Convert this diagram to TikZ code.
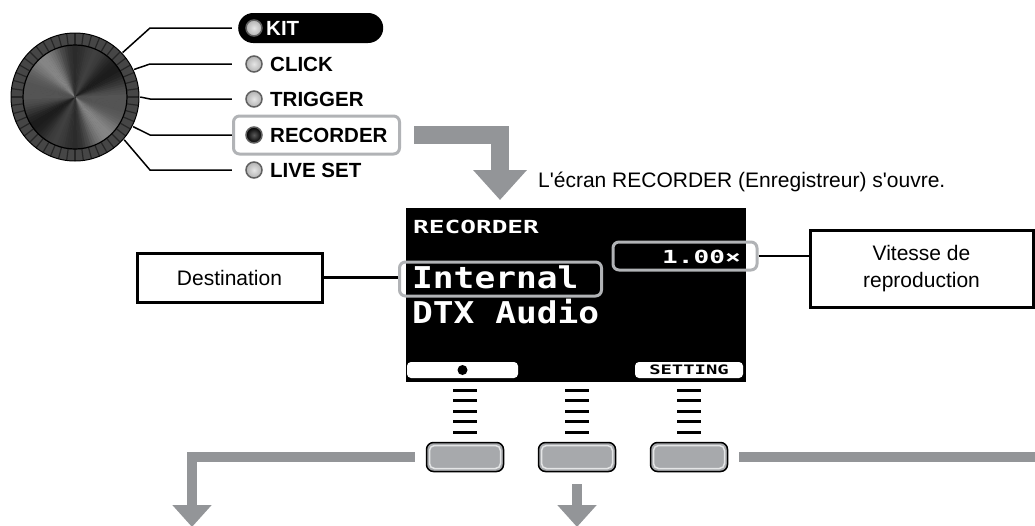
\documentclass[tikz,border=0pt]{standalone}
\usepackage{fontspec}
\setmainfont{Liberation Sans}
\newfontfamily\lcdbig[FakeStretch=1.15]{DejaVu Sans Mono}
\newfontfamily\lcdsmall[FakeStretch=1.45]{DejaVu Sans Mono}
\usepackage{tikz}
\usetikzlibrary{positioning,arrows.meta,fit,backgrounds,calc}
\definecolor{tarrow}{HTML}{939598}
\definecolor{thl}{HTML}{B1B3B6}
\definecolor{tbtn}{HTML}{A7A9AC}
\definecolor{tring}{HTML}{464646}

\begin{document}
\begin{tikzpicture}[x=1pt, y=-1pt, font=\fontsize{21}{27}\selectfont,
  lbl/.style={font=\fontsize{20.5}{24}\selectfont\bfseries, anchor=west, inner sep=0pt},
  led/.style={circle, draw=gray!75!black, line width=1.5pt, inner color=gray!20, outer color=gray!60, minimum size=16pt, inner sep=0pt},
  wire/.style={line width=1.5pt},
  hl/.style={draw=thl, line width=3pt, rounded corners=6pt, inner sep=0pt},
  box/.style={draw, line width=3pt, align=center, inner sep=0pt},
  lcd/.style={white, inner sep=0pt, anchor=west, font=\lcdbig\fontsize{30}{32}\selectfont\bfseries},
  lcds/.style={white, inner sep=0pt, font=\lcdsmall\fontsize{18}{20}\selectfont\bfseries},
  tab/.style={fill=white, rounded corners=4pt, minimum height=16pt, inner sep=0pt},
  btn/.style={draw, line width=1.5pt, fill=tbtn, rounded corners=7pt, minimum width=77pt, minimum height=29pt,
    path picture={\draw[white!70!tbtn, line width=1.5pt, rounded corners=5pt]
      ([shift={(3pt,-3pt)}]path picture bounding box.north west) rectangle
      ([shift={(-3pt,3pt)}]path picture bounding box.south east);}},
  garr/.style={draw=tarrow, line width=10pt, -{Triangle[width=38pt,length=22pt]}}]
\useasboundingbox (0,0) rectangle (1035,525);
% knob
\coordinate (kc) at (75,97);
\fill[tring] (kc) circle (64);
\foreach \a in {0,7.5,...,352.5}
  \draw[black!85, line width=1.2pt] ($(kc)+(\a:52)$) -- ($(kc)+(\a:64)$);
\draw[black, line width=1pt] (kc) circle (64);
\foreach \a in {0,3,...,357}{
  \pgfmathtruncatemacro\g{11+30*cos(\a-40)^4+14*cos(3*\a+20)^2}
  \fill[white!\g!black] (kc) -- ($(kc)+(\a:52.3)$) arc[start angle=\a, end angle=\a+3.5, radius=52.3] -- cycle;
}
\draw[black, line width=1.2pt] (kc) circle (52);
\node[circle, minimum size=130pt, inner sep=0pt] (knob) at (kc) {};
% mode list
\node[fill=black, rounded corners=15pt, minimum width=145pt, minimum height=30pt, anchor=west] (kitsel) at (238,28) {};
\node[hl, minimum width=166pt, minimum height=38pt, anchor=west] (recsel) at (232,135) {};
\node[led] (ledkit) at (254,28) {};
\node[lbl, white] (kit) at (266,28) {KIT};
\node[led] (ledclick) at (254,64) {};
\node[lbl] (click) at (270,64) {CLICK};
\node[led] (ledtrig) at (254,99) {};
\node[lbl] (trig) at (270,99) {TRIGGER};
\node[led, inner color=gray!70!black, outer color=black] (ledrec) at (254,135) {};
\node[lbl] (rec) at (270,135) {RECORDER};
\node[led] (ledlive) at (254,170) {};
\node[lbl] (live) at (270,170) {LIVE SET};
\foreach \n/\a in {kit/43,click/25,trig/0,rec/-27,live/-41}
  \draw[wire] (knob.\a) -- (150,0 |- led\n) -- ([xshift=-13.5pt]led\n.west);
% to the screen
\coordinate (scrin) at (500,200);
\draw[draw=tarrow, line width=18pt, -{Triangle[width=52pt,length=30pt]}] ([xshift=13pt]recsel.east) -| (scrin);
\node[anchor=base west, inner sep=0pt] (caption) at (538,187) {L\textquotesingle écran RECORDER (Enregistreur) s\textquotesingle ouvre.};
% screen
\node[fill=black, minimum width=340pt, minimum height=174pt, inner sep=0pt] (screen) at (576,295) {};
\node[lcds, anchor=west] (scrtitle) at (413,226.5) {RECORDER};
\node[hl, minimum width=144pt, minimum height=28pt] (speedsel) at (685,256) {};
\node[lcds, anchor=east] (speed) at (741,256.5) {1.00×};
\node[hl, minimum width=202pt, minimum height=34pt, anchor=west] (intsel) at (398,279) {};
\node[lcd] (internal) at (412,277) {Internal};
\node[lcd] (dtx) at (412,312) {DTX Audio};
\node[tab, minimum width=111pt] (tabl) at (462.5,370) {};
\fill (tabl) circle (5);
\node[tab, minimum width=108pt, font=\lcdsmall\fontsize{13}{14}\selectfont\bfseries] (tabr) at (689,370) {SETTING};
% callouts
\node[box, minimum width=185pt, minimum height=49pt] (dest) at (229.5,277.5) {Destination};
\draw[line width=2.5pt] (dest.east) -- (dest.east -| intsel.west);
\node[box, minimum width=223pt, minimum height=77pt] (speedlbl) at (921.5,268.5) {Vitesse de\\reproduction};
\draw[line width=2.5pt] (speedsel.east) -- (speedsel.east -| speedlbl.west);
% buttons
\foreach \x in {465,577,689}
  \foreach \y in {390,400.5,...,433}
    \draw[line width=3pt] (\x-12,\y) -- (\x+12,\y);
\node[btn] (btnl) at (465,457) {};
\node[btn] (btnm) at (577,457) {};
\node[btn] (btnr) at (689,457) {};
\coordinate (outl) at (192,527);
\coordinate (outm) at (577,527);
\coordinate (outr) at (1036,457);
\draw[garr] ([xshift=-11pt]btnl.west) -| (outl);
\draw[garr] ([yshift=-12pt]btnm.south) -- (outm);
\draw[draw=tarrow, line width=10pt] ([xshift=11pt]btnr.east) -- (outr);
\end{tikzpicture}
\end{document}
